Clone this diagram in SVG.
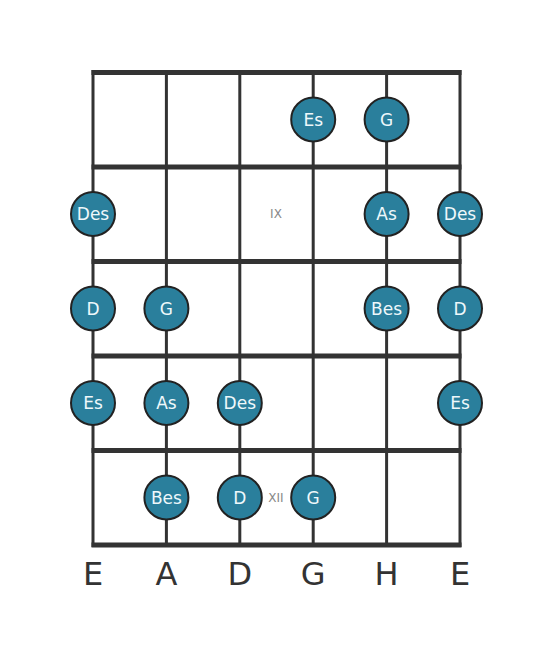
<svg xmlns="http://www.w3.org/2000/svg" width="553" height="656" viewBox="0 0 553 656">
<style>
.fret{stroke:#333;stroke-width:5}
.str{stroke:#333;stroke-width:3}
.note circle{fill:#2a7f9c;stroke:#222;stroke-width:2}
.note text{fill:#eef8fb;font-family:"DejaVu Sans",sans-serif;font-size:17px;text-anchor:middle;dominant-baseline:central}
.pos{fill:#888;font-family:"DejaVu Sans",sans-serif;font-size:12px;text-anchor:middle;dominant-baseline:central}
.sname{fill:#333;font-family:"DejaVu Sans",sans-serif;font-size:32px;text-anchor:middle}
</style>
<rect width="553" height="656" fill="#fff"/>
<g id="connectors">
<line class="str" x1="93" y1="70" x2="93" y2="547"/>
<line class="str" x1="166.4" y1="70" x2="166.4" y2="547"/>
<line class="str" x1="239.8" y1="70" x2="239.8" y2="547"/>
<line class="str" x1="313.2" y1="70" x2="313.2" y2="547"/>
<line class="str" x1="386.6" y1="70" x2="386.6" y2="547"/>
<line class="str" x1="460" y1="70" x2="460" y2="547"/>
<line class="fret" x1="91.5" y1="72.5" x2="461.5" y2="72.5"/>
<line class="fret" x1="91.5" y1="167" x2="461.5" y2="167"/>
<line class="fret" x1="91.5" y1="261.5" x2="461.5" y2="261.5"/>
<line class="fret" x1="91.5" y1="356" x2="461.5" y2="356"/>
<line class="fret" x1="91.5" y1="450.5" x2="461.5" y2="450.5"/>
<line class="fret" x1="91.5" y1="545" x2="461.5" y2="545"/>
</g>
<text class="pos" x="276" y="214">IX</text>
<text class="pos" x="276" y="497.5">XII</text>
<g id="n1" class="note"><circle cx="313.2" cy="119.5" r="22"/><text x="313.2" y="119.5">Es</text></g>
<g id="n2" class="note"><circle cx="386.6" cy="119.5" r="22"/><text x="386.6" y="119.5">G</text></g>
<g id="n3" class="note"><circle cx="93" cy="214" r="22"/><text x="93" y="214">Des</text></g>
<g id="n4" class="note"><circle cx="386.6" cy="214" r="22"/><text x="386.6" y="214">As</text></g>
<g id="n5" class="note"><circle cx="460" cy="214" r="22"/><text x="460" y="214">Des</text></g>
<g id="n6" class="note"><circle cx="93" cy="308.5" r="22"/><text x="93" y="308.5">D</text></g>
<g id="n7" class="note"><circle cx="166.4" cy="308.5" r="22"/><text x="166.4" y="308.5">G</text></g>
<g id="n8" class="note"><circle cx="386.6" cy="308.5" r="22"/><text x="386.6" y="308.5">Bes</text></g>
<g id="n9" class="note"><circle cx="460" cy="308.5" r="22"/><text x="460" y="308.5">D</text></g>
<g id="n10" class="note"><circle cx="93" cy="403" r="22"/><text x="93" y="403">Es</text></g>
<g id="n11" class="note"><circle cx="166.4" cy="403" r="22"/><text x="166.4" y="403">As</text></g>
<g id="n12" class="note"><circle cx="239.8" cy="403" r="22"/><text x="239.8" y="403">Des</text></g>
<g id="n13" class="note"><circle cx="460" cy="403" r="22"/><text x="460" y="403">Es</text></g>
<g id="n14" class="note"><circle cx="166.4" cy="497.5" r="22"/><text x="166.4" y="497.5">Bes</text></g>
<g id="n15" class="note"><circle cx="239.8" cy="497.5" r="22"/><text x="239.8" y="497.5">D</text></g>
<g id="n16" class="note"><circle cx="313.2" cy="497.5" r="22"/><text x="313.2" y="497.5">G</text></g>
<g id="labels">
<text class="sname" x="93" y="585">E</text>
<text class="sname" x="166.4" y="585">A</text>
<text class="sname" x="239.8" y="585">D</text>
<text class="sname" x="313.2" y="585">G</text>
<text class="sname" x="386.6" y="585">H</text>
<text class="sname" x="460" y="585">E</text>
</g>
</svg>
